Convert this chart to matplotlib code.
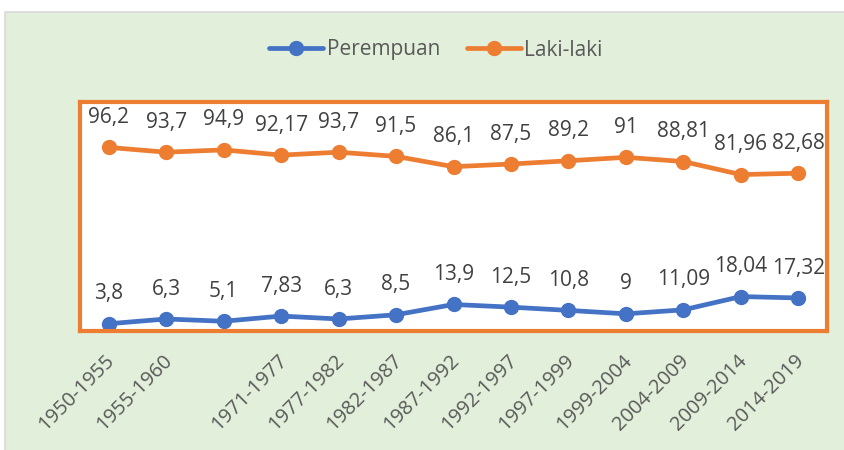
import matplotlib.pyplot as plt
import matplotlib.transforms as mtransforms
import numpy as np
from matplotlib.patches import Rectangle

plt.rcParams["font.family"] = ["Open Sans", "DejaVu Sans"]

periods = ["1950-1955", "1955-1960", "", "1971-1977", "1977-1982", "1982-1987",
           "1987-1992", "1992-1997", "1997-1999", "1999-2004", "2004-2009",
           "2009-2014", "2014-2019"]
perempuan = [3.8, 6.3, 5.1, 7.83, 6.3, 8.5, 13.9, 12.5, 10.8, 9, 11.09, 18.04, 17.32]
laki = [96.2, 93.7, 94.9, 92.17, 93.7, 91.5, 86.1, 87.5, 89.2, 91, 88.81, 81.96, 82.68]

BLUE = "#4472C4"
ORANGE = "#ED7D31"
BG = "#E2EFDA"


def fmt(v):
    return f"{v:g}".replace(".", ",")


fig = plt.figure(figsize=(8.44, 4.5), dpi=100)
fig.patch.set_facecolor("white")
fig.patches.append(Rectangle((5 / 844, -0.1), 1.2, 1 - 12 / 450 + 0.1,
                             transform=fig.transFigure, facecolor=BG,
                             edgecolor="#D9D9D9", linewidth=1.2, zorder=-5))

ax = fig.add_axes([80 / 844, 1 - 331 / 450, 747 / 844, 229 / 450])
ax.set_zorder(2)
ax.set_facecolor("white")
x = np.arange(len(periods))
ax.plot(x, perempuan, color=BLUE, lw=3.4, marker="o", ms=10, label="Perempuan",
        solid_capstyle="round")
ax.plot(x, laki, color=ORANGE, lw=3.4, marker="o", ms=10, label="Laki-laki",
        solid_capstyle="round")
for xi, v in zip(x, perempuan):
    ax.annotate(fmt(v), (xi, v), xytext=(0, 14), textcoords="offset points",
                ha="center", va="bottom", fontsize=15, color="#404040")
for xi, v in zip(x, laki):
    ax.annotate(fmt(v), (xi, v), xytext=(0, 14), textcoords="offset points",
                ha="center", va="bottom", fontsize=15, color="#404040")

ax.set_xlim(-0.5, len(periods) - 0.5)
ax.set_ylim(0, 120)
ax.set_yticks([])
ax.set_xticks(x)
ax.set_xticklabels(periods, rotation=45, ha="right", rotation_mode="anchor",
                   fontsize=14.5, color="#595959")
ax.tick_params(axis="x", length=0, pad=14)
shift = mtransforms.ScaledTranslation(-4 / 100, 0, fig.dpi_scale_trans)
for lbl in ax.get_xticklabels():
    lbl.set_transform(lbl.get_transform() + shift)
for s in ax.spines.values():
    s.set_color(ORANGE)
    s.set_linewidth(3)

fig.legend(loc="center", bbox_to_anchor=(436 / 844, 1 - 50 / 450), ncol=2,
           frameon=False, fontsize=15, labelcolor="#595959", handlelength=2.6,
           handletextpad=0.15, columnspacing=1.3)

fig.savefig("out.png", dpi=100, facecolor="white")
